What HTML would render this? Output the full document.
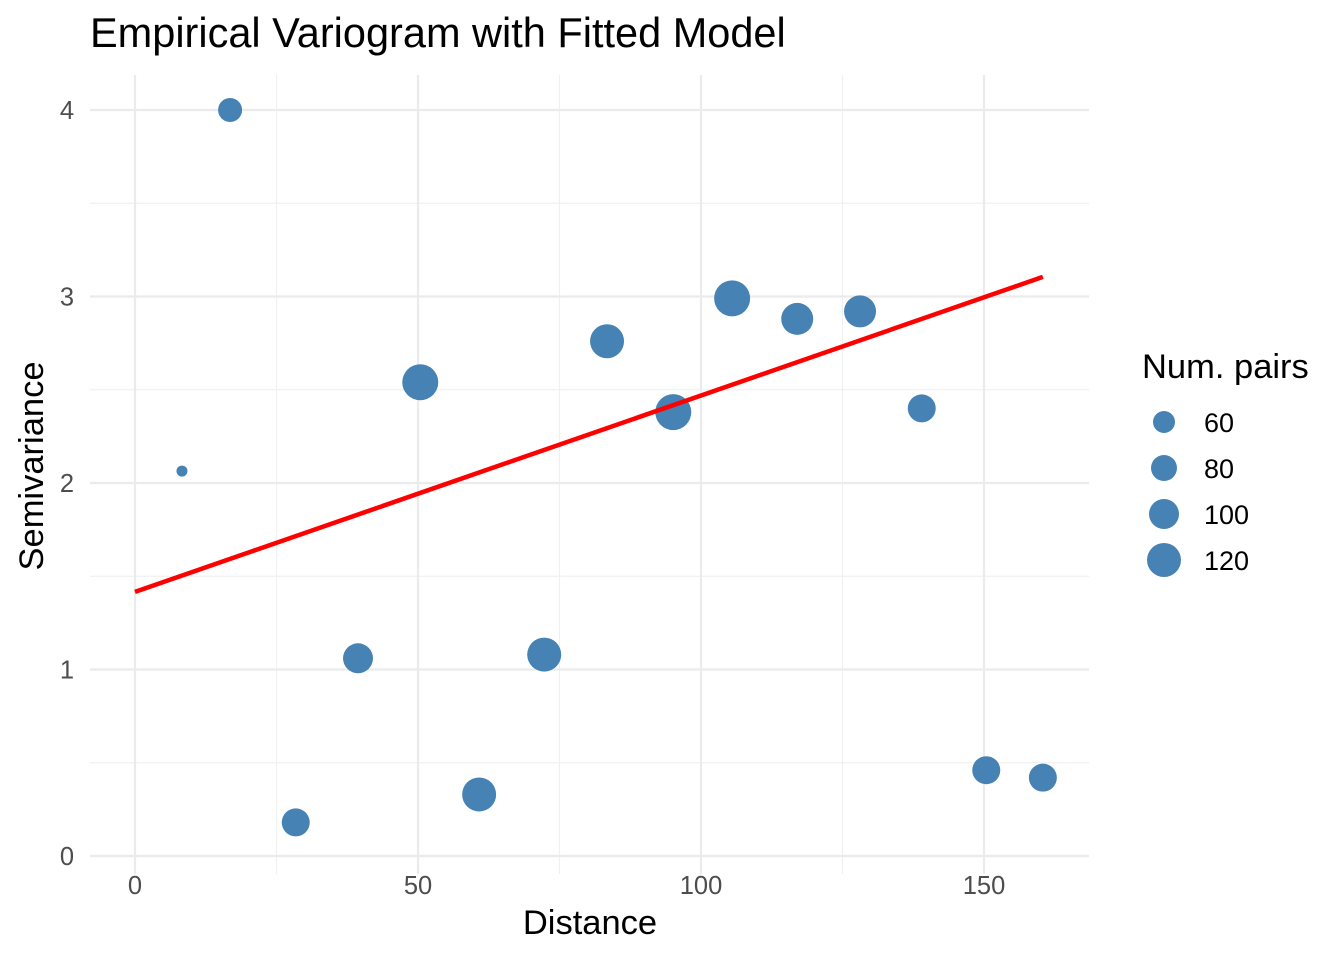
<!DOCTYPE html>
<html><head><meta charset="utf-8"><style>
html,body{margin:0;padding:0;background:#fff;}
svg{display:block;font-family:"Liberation Sans",sans-serif;}
</style></head><body>
<svg id="chart" width="1344" height="960"></svg>
<script>
const distances=[8.3,16.8,28.4,39.4,50.4,60.8,72.3,83.4,95.1,105.5,117.0,128.1,139.0,150.4,160.4];
const gammas=[2.064,4.0,0.18,1.06,2.54,0.33,1.08,2.76,2.38,2.99,2.88,2.92,2.40,0.46,0.42];
const npairs=[5,70,90,100,130,120,120,120,130,130,110,110,90,90,90];
const xTicks=[0,50,100,150];
const yTicks=[0,1,2,3,4];
const legendVals=[60,80,100,120];
const fitX=[0,160.4];
const fitY=[1.416,3.105];

const NS='http://www.w3.org/2000/svg';
const svg=document.getElementById('chart');
const X=v=>135+v*(984-135)/150;
const Y=v=>856-v*(856-110)/4;
const R=n=>5+0.1*n;
function mk(tag,attrs,parent){const e=document.createElementNS(NS,tag);for(const k in attrs)e.setAttribute(k,attrs[k]);(parent||svg).appendChild(e);return e;}
const L=90,Rt=1089,T=75,B=856+18;
for(const v of [25,75,125]){const g=mk('line',{x1:X(v),x2:X(v),y1:T,y2:B,stroke:'#f0f0f0','stroke-width':1.2});}
for(const v of [0.5,1.5,2.5,3.5]){const g=mk('line',{x1:L,x2:Rt,y1:Y(v),y2:Y(v),stroke:'#f0f0f0','stroke-width':1.2});}
for(const v of xTicks){const g=mk('line',{x1:X(v),x2:X(v),y1:T,y2:B,stroke:'#ebebeb','stroke-width':2.2});
const t=mk('text',{x:X(v),y:894,'text-anchor':'middle','font-size':25.5,fill:'#4d4d4d'});t.textContent=v;}
for(const v of yTicks){const g=mk('line',{x1:L,x2:Rt,y1:Y(v),y2:Y(v),stroke:'#ebebeb','stroke-width':2.2});
const t=mk('text',{x:74,y:Y(v)+9,'text-anchor':'end','font-size':25.5,fill:'#4d4d4d'});t.textContent=v;}
for(let i=0;i<distances.length;i++){const c=mk('circle',{cx:X(distances[i]),cy:Y(gammas[i]),r:R(npairs[i]),fill:'#4682b4'});}
const fl=mk('line',{x1:X(fitX[0]),y1:Y(fitY[0]),x2:X(fitX[1]),y2:Y(fitY[1]),stroke:'#ff0000','stroke-width':4.5});

let t=mk('text',{x:90,y:47,'font-size':41.5,fill:'#000'});t.textContent='Empirical Variogram with Fitted Model';
t=mk('text',{x:590,y:934,'text-anchor':'middle','font-size':34.5,fill:'#000'});t.textContent='Distance';
t=mk('text',{x:0,y:0,'text-anchor':'middle','font-size':34.5,fill:'#000',transform:'translate(43,466) rotate(-90)'});t.textContent='Semivariance';
t=mk('text',{x:1142,y:378,'font-size':34.5,fill:'#000'});t.textContent='Num. pairs';
legendVals.forEach((v,i)=>{const cy=422+i*46;
const c=mk('circle',{cx:1164,cy:cy,r:R(v),fill:'#4682b4'});
const tt=mk('text',{x:1204,y:cy+10,'font-size':27,fill:'#000'});tt.textContent=v;});
</script>
</body></html>
